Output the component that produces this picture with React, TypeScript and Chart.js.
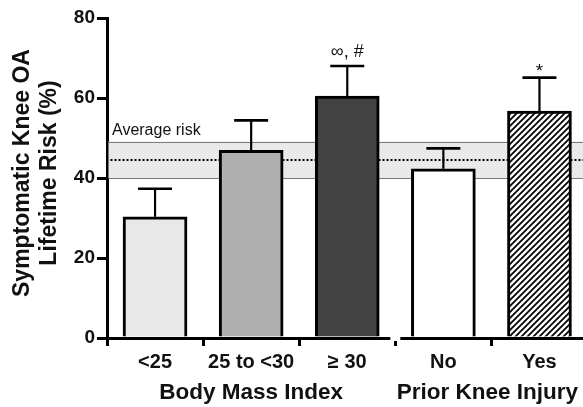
import React, { useEffect, useRef } from 'react';
import { Chart, registerables } from 'chart.js';

Chart.register(...registerables);

const categories = ['<25', '25 to <30', '≥ 30', 'No', 'Yes'];
const groupTitles = ['Body Mass Index', 'Prior Knee Injury'];
const groupMembers = [[0, 1, 2], [3, 4]];
const lifetimeRisk = [30.3, 46.9, 60.5, 42.3, 56.7];
const upperError = [37.3, 54.4, 68.0, 47.4, 65.1];
const annotations = ['', '', '∞, #', '', '*'];
const averageRisk = 44.6;
const averageLow = 40.0;
const averageHigh = 49.1;
const yTicks = [0, 20, 40, 60, 80];
const yTitle = ['Symptomatic Knee OA', 'Lifetime Risk (%)'];

const FONT = '"Liberation Sans", Arial, Helvetica, sans-serif';

function makeHatch(): CanvasPattern | string {
  const pc = document.createElement('canvas');
  pc.width = 6;
  pc.height = 6;
  const p = pc.getContext('2d');
  if (!p) return '#fff';
  p.fillStyle = '#fff';
  p.fillRect(0, 0, 6, 6);
  p.strokeStyle = '#000';
  p.lineWidth = 1.8;
  p.beginPath();
  p.moveTo(0, 6);
  p.lineTo(6, 0);
  p.moveTo(-3, 3);
  p.lineTo(3, -3);
  p.moveTo(3, 9);
  p.lineTo(9, 3);
  p.stroke();
  return p.createPattern(pc, 'repeat') || '#fff';
}

const overlayPlugin = {
  id: 'overlay',
  beforeDatasetsDraw(chart: any) {
    const { ctx, chartArea, scales } = chart;
    const y = scales.y;
    const top = y.getPixelForValue(averageHigh);
    const bot = y.getPixelForValue(averageLow);
    const mid = y.getPixelForValue(averageRisk);
    const left = chartArea.left + 1.5;
    const right = chartArea.right;
    ctx.save();
    ctx.fillStyle = '#e9e9e9';
    ctx.fillRect(left, top, right - left, bot - top);
    ctx.strokeStyle = '#7a7a7a';
    ctx.lineWidth = 1;
    ctx.beginPath();
    ctx.moveTo(left, Math.round(top) + 0.5);
    ctx.lineTo(right, Math.round(top) + 0.5);
    ctx.moveTo(left, Math.round(bot) + 0.5);
    ctx.lineTo(right, Math.round(bot) + 0.5);
    ctx.stroke();
    ctx.strokeStyle = '#000';
    ctx.lineWidth = 2;
    ctx.setLineDash([2, 2]);
    ctx.beginPath();
    ctx.moveTo(left + 2, Math.round(mid));
    ctx.lineTo(right, Math.round(mid));
    ctx.stroke();
    ctx.setLineDash([]);
    ctx.fillStyle = '#111';
    ctx.font = `16px ${FONT}`;
    ctx.textAlign = 'left';
    ctx.textBaseline = 'alphabetic';
    ctx.fillText('Average risk', chartArea.left + 5, top - 7);
    ctx.restore();
  },
  afterDatasetsDraw(chart: any) {
    const { ctx, scales } = chart;
    const x = scales.x;
    const y = scales.y;
    ctx.save();
    ctx.strokeStyle = '#000';
    lifetimeRisk.forEach((v, i) => {
      const cx = x.getPixelForValue(i);
      const yTop = y.getPixelForValue(v);
      const yErr = y.getPixelForValue(upperError[i]);
      ctx.lineWidth = 2.2;
      ctx.beginPath();
      ctx.moveTo(cx, yTop);
      ctx.lineTo(cx, yErr);
      ctx.stroke();
      ctx.lineWidth = 2.6;
      ctx.beginPath();
      ctx.moveTo(cx - 17, yErr);
      ctx.lineTo(cx + 17, yErr);
      ctx.stroke();
      const a = annotations[i];
      if (a) {
        ctx.fillStyle = '#111';
        ctx.textAlign = 'center';
        ctx.textBaseline = 'alphabetic';
        if (a === '*') {
          ctx.font = `19px ${FONT}`;
          ctx.fillText(a, cx, yErr - 1);
        } else {
          ctx.font = `18px ${FONT}`;
          ctx.fillText(a, cx, yErr - 9);
        }
      }
    });
    ctx.restore();
  },
  afterDraw(chart: any) {
    const { ctx, chartArea, scales } = chart;
    const x = scales.x;
    ctx.save();
    // axis break between groups
    const bx = x.getPixelForValue(2.5);
    ctx.fillStyle = '#fff';
    ctx.fillRect(bx - 5, chartArea.bottom - 3, 10, 6);
    // group titles
    ctx.fillStyle = '#111';
    ctx.font = `bold 22.5px ${FONT}`;
    ctx.textAlign = 'center';
    ctx.textBaseline = 'alphabetic';
    groupTitles.forEach((t, g) => {
      const m = groupMembers[g];
      const c = (x.getPixelForValue(m[0]) + x.getPixelForValue(m[m.length - 1])) / 2;
      const shift = m.length % 2 === 0 ? -4 : 0;
      ctx.fillText(t, c + shift, 399);
    });
    // y title
    ctx.translate(0, 173);
    ctx.rotate(-Math.PI / 2);
    ctx.font = `bold 23px ${FONT}`;
    ctx.textBaseline = 'middle';
    ctx.fillText(yTitle[0], 0, 23);
    ctx.fillText(yTitle[1], 0, 50);
    ctx.restore();
  },
};

export default function App() {
  const ref = useRef<HTMLCanvasElement>(null);
  useEffect(() => {
    document.body.style.margin = '0';
    const canvas = ref.current;
    if (!canvas) return;
    const hatch = makeHatch();
    const colors = ['#e8e8e8', '#b0b0b0', '#424242', '#ffffff', hatch];
    const chart = new Chart(canvas, {
      type: 'bar',
      data: {
        datasets: [
          {
            data: lifetimeRisk.map((v, i) => ({ x: i, y: v })),
            backgroundColor: colors as any,
            borderColor: '#000',
            borderWidth: 3,
            borderSkipped: 'start',
            barThickness: 64,
          },
        ],
      },
      options: {
        animation: false,
        responsive: false,
        events: [],
        layout: { padding: { top: 18, left: 0, right: 0, bottom: 0 } },
        plugins: { legend: { display: false }, tooltip: { enabled: false } },
        scales: {
          x: {
            type: 'linear',
            min: -0.5,
            max: 4.453,
            offset: false,
            afterFit(scale: any) {
              scale.height = 69;
            },
            afterBuildTicks(scale: any) {
              scale.ticks = categories.map((_, i) => ({ value: i }));
            },
            grid: {
              drawOnChartArea: false,
              drawTicks: true,
              tickLength: 8,
              lineWidth: 3,
              color: '#000',
            },
            border: { display: true, color: '#000', width: 3 },
            ticks: {
              autoSkip: false,
              maxRotation: 0,
              padding: 4,
              color: '#111',
              font: { family: FONT, size: 20, weight: 'bold' },
              callback: (v: any) => categories[v as number] ?? '',
            },
          },
          y: {
            min: 0,
            max: 80,
            afterFit(scale: any) {
              scale.width = 107;
            },
            afterBuildTicks(scale: any) {
              scale.ticks = yTicks.map((v) => ({ value: v }));
            },
            grid: {
              drawOnChartArea: false,
              drawTicks: true,
              tickLength: 10,
              lineWidth: 3,
              color: '#000',
            },
            border: { display: true, color: '#000', width: 3 },
            ticks: {
              padding: 2,
              color: '#111',
              font: { family: FONT, size: 19, weight: 'bold' },
            },
          },
        },
      },
      plugins: [overlayPlugin],
    });
    return () => chart.destroy();
  }, []);
  return <canvas ref={ref} width={583} height={407} style={{ display: 'block' }} />;
}
